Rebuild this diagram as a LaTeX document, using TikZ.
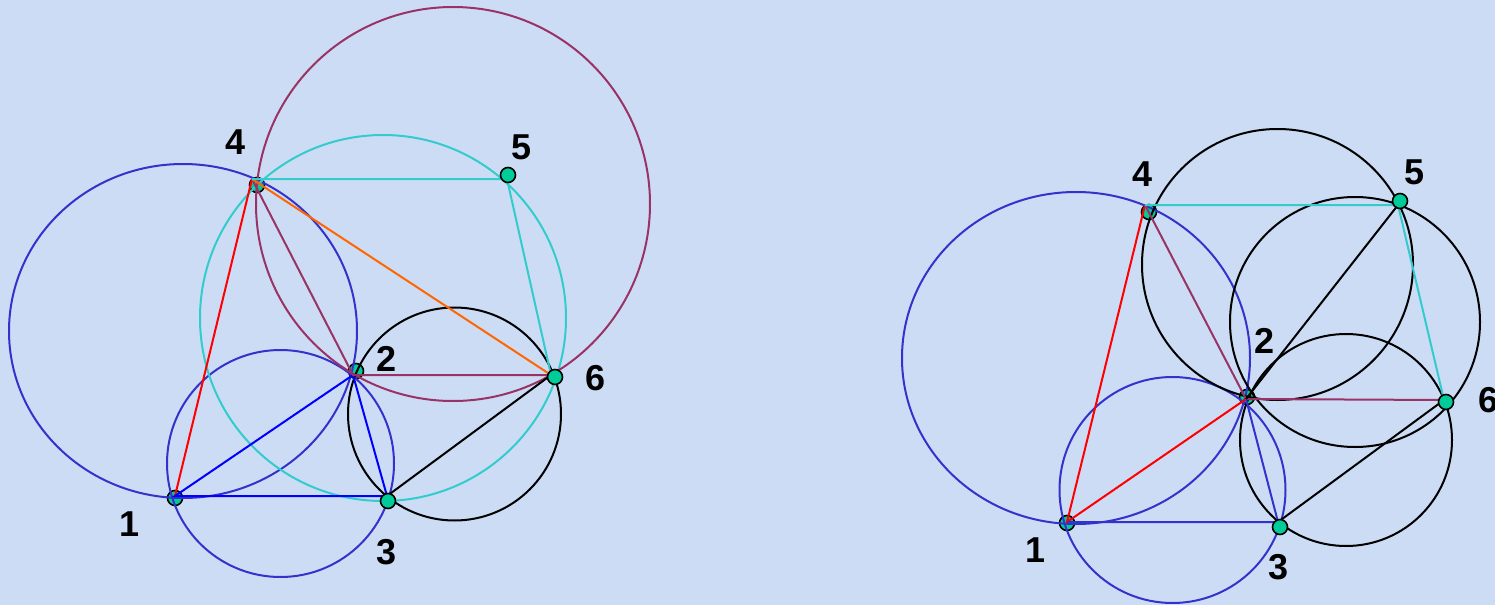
\documentclass[tikz,border=0pt]{standalone}
\usepackage{fontspec}
\setmainfont{Liberation Sans}
\definecolor{bgblue}{RGB}{204,220,245}
\definecolor{ringblue}{RGB}{51,51,204}
\definecolor{ringcyan}{RGB}{51,204,204}
\definecolor{plum}{RGB}{153,51,102}
\definecolor{tangerine}{RGB}{255,102,0}
\definecolor{dotgreen}{RGB}{0,204,153}
\tikzset{
  dot/.style={circle,draw=black,fill=dotgreen,line width=0.8pt,inner sep=0pt,minimum size=7.5pt},
  num/.style={font=\bfseries\fontsize{18}{18}\selectfont,inner sep=0pt},
}
\begin{document}
\begin{tikzpicture}[x=0.5pt,y=-0.5pt,line width=1pt]
\fill[bgblue] (0,0) rectangle (1495,605);
\useasboundingbox (0,0) rectangle (1495,605);
% left figure
\coordinate (a1) at (175,496);
\coordinate (a2) at (353,375);
\coordinate (a3) at (387,496);
\coordinate (a4) at (252,179);
\coordinate (a5) at (507,179);
\coordinate (a6) at (551,375);
\node[dot] (da1) at (175,498) {};
\node[dot] (da2) at (356,371) {};
\node[dot] (da4) at (257,185) {};
\draw[ringblue] (183,331) ellipse [x radius=174,y radius=167];
\draw[ringblue] (280.5,463.5) circle (113.5);
\draw[ringcyan] (383,318) circle (183);
\draw[plum] (453,204) circle (197);
\draw (454.5,414) circle (106.5);
\draw[red] (a1) -- (a4);
\draw[blue] (a1) -- (a2) -- (a3) -- cycle;
\draw[plum] (a4) -- (a2) -- (a6);
\draw[tangerine] (a4) -- (a6);
\draw[ringcyan] (a4) -- (a5) -- (a6);
\draw (a3) -- (a6);
\node[dot] (da3) at (388,501) {};
\node[dot] (da5) at (508,175) {};
\node[dot] (da6) at (555,377) {};
\node[num] (la1) at (130,524) {1};
\node[num] (la2) at (387,359) {2};
\node[num] (la3) at (387,552) {3};
\node[num] (la4) at (236,142) {4};
\node[num] (la5) at (522,147) {5};
\node[num] (la6) at (596,378) {6};
% right figure
\coordinate (b1) at (1067,522);
\coordinate (b2) at (1246,399);
\coordinate (b3) at (1278,522);
\coordinate (b4) at (1145,205);
\coordinate (b5) at (1398,205);
\coordinate (b6) at (1444,400);
\node[dot] (db1) at (1067,523) {};
\node[dot] (db2) at (1247,397) {};
\node[dot] (db4) at (1149,212) {};
\draw[ringblue] (1076,358) ellipse [x radius=174,y radius=166];
\draw[ringblue] (1172.5,490) circle (113);
\draw (1277.5,264.5) circle (135.5);
\draw (1355,322) circle (125);
\draw (1346,440) circle (106);
\draw[red] (b4) -- (b1) -- (b2);
\draw[ringblue] (b1) -- (b3) -- (b2);
\draw[plum] (b4) -- (b2) -- (b6);
\draw[ringcyan] (b4) -- (b5) -- (b6);
\draw (b2) -- (b5);
\draw (b3) -- (b6);
\node[dot] (db3) at (1280,527) {};
\node[dot] (db5) at (1400,201) {};
\node[dot] (db6) at (1446,402) {};
\node[num] (lb1) at (1036,550) {1};
\node[num] (lb2) at (1264,341) {2};
\node[num] (lb3) at (1278,567) {3};
\node[num] (lb4) at (1143,174) {4};
\node[num] (lb5) at (1414,172) {5};
\node[num] (lb6) at (1488,400) {6};
\end{tikzpicture}
\end{document}
